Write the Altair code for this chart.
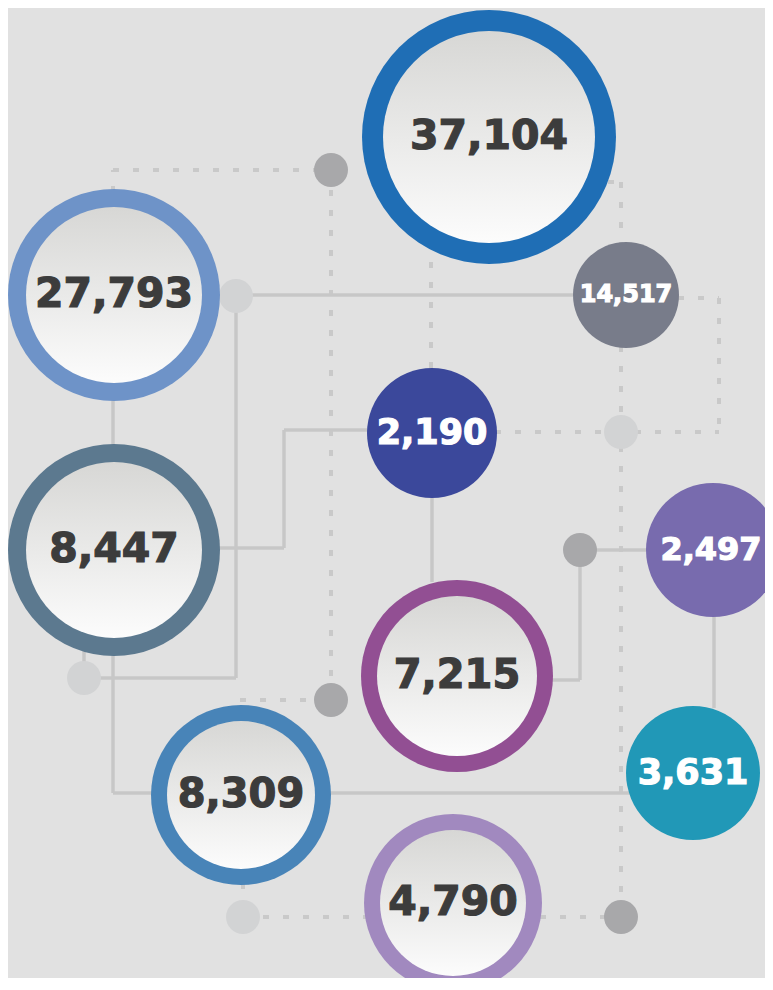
import altair as alt
import pandas as pd

# ---- values shown in the bubbles ----
labels = ["37,104", "27,793", "8,447", "14,517", "2,190", "2,497", "7,215", "8,309", "3,631", "4,790"]
styles = ["ring", "ring", "ring", "solid", "solid", "solid", "ring", "ring", "solid", "ring"]
colors = ["#1f6eb5", "#6e93c8", "#5c798f", "#787c8a", "#3b489b", "#786bae", "#924f93", "#4884b8", "#2198b7", "#a189bf"]
# layout (image pixels)
cx = [489, 114, 114, 626, 432, 713, 457, 241, 693, 453]
cy = [137, 295, 550, 295, 433, 550, 676, 795, 773, 903]
radius = [127, 106, 106, 53, 65, 67, 96, 90, 67, 89]
ringw = [21, 18, 18, 0, 0, 0, 16, 16, 0, 16]
fontsz = [41, 41, 41, 24, 35, 32, 40, 40, 35, 41]
text_dx = [0, 0, 0, 0, 0, -2, 0, 0, 0, 0]

# small connector dots
dot_x = [331, 331, 580, 621, 236, 84, 621, 243]
dot_y = [170, 700, 550, 917, 296, 678, 432, 917]
dot_c = ["#a8a8aa", "#a8a8aa", "#a8a8aa", "#a8a8aa", "#d2d3d4", "#d2d3d4", "#d2d3d4", "#d2d3d4"]

solid_segs = [
    (236, 295, 573, 295), (236, 295, 236, 678), (84, 678, 236, 678), (84, 640, 84, 678),
    (113, 395, 113, 450), (113, 650, 113, 793), (113, 793, 630, 793),
    (215, 548, 284, 548), (284, 430, 284, 548), (284, 430, 370, 430),
    (432, 495, 432, 582), (550, 680, 580, 680), (580, 550, 580, 680), (580, 550, 648, 550),
    (714, 612, 714, 708),
]
dash_segs = [
    (113, 192, 113, 170), (113, 170, 331, 170), (331, 170, 331, 700), (240, 700, 331, 700),
    (431, 262, 431, 368), (608, 182, 621, 182), (621, 182, 621, 244), (621, 346, 621, 917),
    (495, 432, 719, 432), (719, 298, 719, 432), (678, 298, 719, 298),
    (243, 917, 366, 917), (540, 917, 621, 917), (243, 883, 243, 900),
]

W, H = 757, 970
X = alt.Scale(domain=[8, 8 + W], nice=False, zero=False)
Y = alt.Scale(domain=[8, 8 + H], nice=False, zero=False, reverse=True)
noax = None

def seg_df(segs):
    return pd.DataFrame(segs, columns=["x", "y", "x2", "y2"])

def area(r):
    # Vega symbol size = area of the bounding square
    return (2 * r) ** 2

dash = alt.Chart(seg_df(dash_segs)).mark_rule(
    color="#c9c9c9", strokeWidth=4, strokeDash=[6, 14]
).encode(
    x=alt.X("x:Q", scale=X, axis=noax), y=alt.Y("y:Q", scale=Y, axis=noax),
    x2="x2:Q", y2="y2:Q",
)
solid = alt.Chart(seg_df(solid_segs)).mark_rule(
    color="#c7c7c7", strokeWidth=3.5
).encode(
    x=alt.X("x:Q", scale=X, axis=noax), y=alt.Y("y:Q", scale=Y, axis=noax),
    x2="x2:Q", y2="y2:Q",
)

dots_df = pd.DataFrame({"x": dot_x, "y": dot_y, "c": dot_c, "s": [area(17)] * len(dot_x)})
dots = alt.Chart(dots_df).mark_circle(opacity=1).encode(
    x=alt.X("x:Q", scale=X, axis=noax), y=alt.Y("y:Q", scale=Y, axis=noax),
    color=alt.Color("c:N", scale=None), size=alt.Size("s:Q", scale=None),
)

nodes = pd.DataFrame({
    "label": labels, "style": styles, "col": colors, "x": cx, "y": cy,
    "tx": [a + d for a, d in zip(cx, text_dx)],
    "outer": [area(r) for r in radius],
    "inner": [area(r - w) for r, w in zip(radius, ringw)],
    "fs": fontsz,
    "tc": ["#3c3c3c" if s == "ring" else "#ffffff" for s in styles],
})

outer = alt.Chart(nodes).mark_circle(opacity=1).encode(
    x=alt.X("x:Q", scale=X, axis=noax), y=alt.Y("y:Q", scale=Y, axis=noax),
    color=alt.Color("col:N", scale=None), size=alt.Size("outer:Q", scale=None),
)

grad = {"gradient": "linear", "x1": 0, "y1": 0, "x2": 0, "y2": 1,
        "stops": [{"offset": 0, "color": "#d7d7d5"}, {"offset": 1, "color": "#fcfcfc"}]}
inner = alt.Chart(nodes).transform_filter(alt.datum.style == "ring").mark_circle(
    opacity=1, fill=grad, fillOpacity=1
).encode(
    x=alt.X("x:Q", scale=X, axis=noax), y=alt.Y("y:Q", scale=Y, axis=noax),
    size=alt.Size("inner:Q", scale=None),
)

text = alt.Chart(nodes).mark_text(
    font="DejaVu Sans", fontWeight="bold", align="center", baseline="middle", strokeWidth=1.2
).encode(
    x=alt.X("tx:Q", scale=X, axis=noax), y=alt.Y("y:Q", scale=Y, axis=noax),
    text="label:N", color=alt.Color("tc:N", scale=None), stroke=alt.Color("tc:N", scale=None),
    size=alt.Size("fs:Q", scale=None),
)

chart = alt.layer(dash, solid, dots, outer, inner, text).properties(
    width=W, height=H, background="#e1e1e1", padding=0,
    autosize=alt.AutoSizeParams(type="none"),
).configure_view(stroke=None, fill="#e1e1e1")

chart.save("out.html", embed_options={"renderer": "svg", "actions": False})
